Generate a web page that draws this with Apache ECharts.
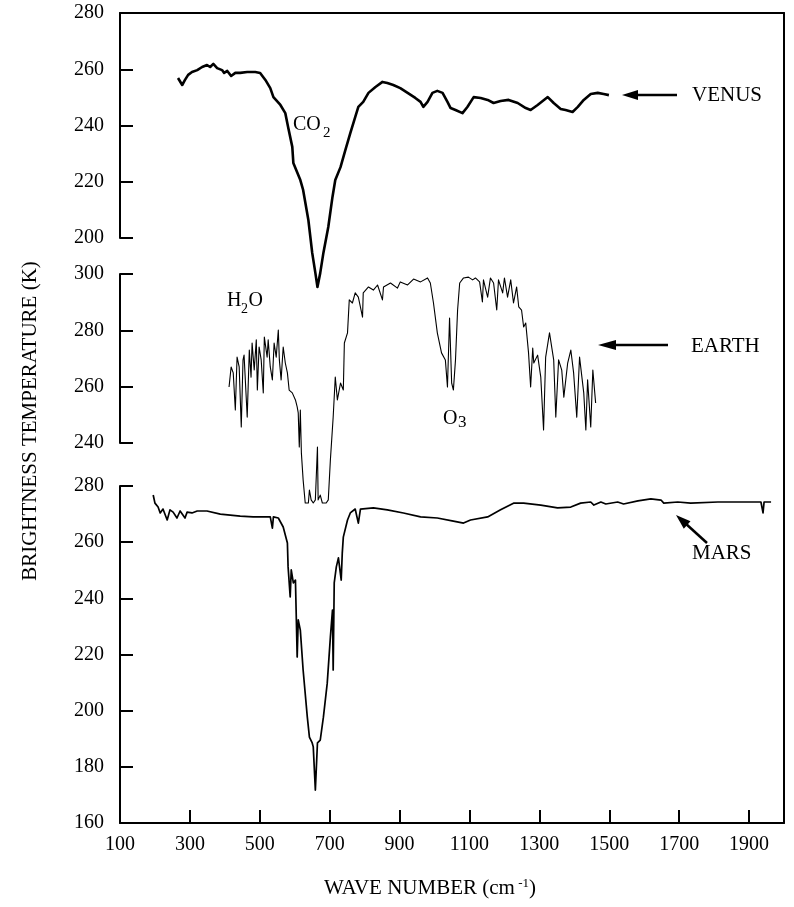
<!DOCTYPE html>
<html><head><meta charset="utf-8">
<script src="https://cdn.jsdelivr.net/npm/echarts/dist/echarts.min.js"></script>
<style>html,body{margin:0;padding:0;background:#fff}#c{width:794px;height:907px}</style>
</head><body><div id="c"></div>
<script>
// ---- data (wave number cm^-1, brightness temperature K) ----
const venusWN = [266,278,286,295,306,321,335,349,358,367,378,392,398,407,418,430,444,464,487,501,516,530,539,559,573,581,593,596,616,624,639,650,659,665,673,682,696,708,716,731,745,759,773,782,796,811,831,851,865,882,902,923,945,960,968,980,994,1008,1023,1037,1046,1060,1080,1094,1112,1132,1152,1169,1189,1212,1238,1261,1275,1295,1324,1341,1361,1375,1395,1410,1427,1447,1467,1484,1499];
const venusT = [256.9,254.4,256.2,258.0,259.0,259.7,260.8,261.5,260.8,261.9,260.4,259.7,258.7,259.4,257.6,258.7,258.7,259.0,259.0,258.7,256.2,253.3,250.1,247.3,244.4,239.5,232.4,226.7,220.6,217.1,206.4,194.7,187.6,182.6,187.6,194.7,203.9,214.6,220.6,225.2,231.3,237.3,243.0,246.6,248.4,251.6,253.7,255.5,255.1,254.4,253.3,251.6,249.8,248.4,246.6,248.4,251.6,252.3,251.6,248.4,246.2,245.5,244.4,246.6,250.1,249.8,249.1,248.0,248.7,249.1,248.0,246.2,245.5,247.3,250.1,248.0,245.9,245.5,244.8,246.6,249.1,251.2,251.6,251.2,250.8];

const earthWN = [412,418,424,430,435,441,447,452,455,464,470,475,478,484,490,493,498,504,510,513,521,524,530,536,541,547,553,556,561,567,573,579,584,593,602,607,610,613,616,619,624,630,639,642,647,653,659,665,667,673,679,690,696,702,710,716,722,731,739,742,751,756,765,773,782,794,796,811,825,837,851,854,874,894,902,923,940,960,980,988,997,1008,1020,1031,1037,1043,1049,1054,1060,1066,1072,1083,1097,1109,1117,1129,1137,1140,1152,1160,1169,1178,1183,1195,1200,1209,1218,1226,1235,1241,1249,1255,1261,1269,1275,1281,1284,1295,1304,1312,1318,1329,1341,1347,1355,1364,1370,1381,1390,1398,1407,1415,1427,1433,1438,1447,1453,1461];
const earthT = [259.9,267.0,264.9,251.7,270.5,267.0,245.7,269.5,271.2,249.2,273.0,263.4,275.5,265.9,276.6,258.8,274.1,269.5,257.8,277.6,270.5,276.6,267.0,262.4,275.5,270.5,280.1,269.5,262.4,274.1,268.4,264.9,258.8,257.8,255.3,252.8,250.7,238.6,251.7,236.5,226.9,218.7,218.7,223.3,219.8,218.7,219.8,238.6,219.8,221.5,218.7,218.7,219.8,234.0,249.2,263.4,255.3,261.3,258.8,275.5,279.1,290.8,289.7,293.3,291.8,284.7,293.3,295.4,294.3,296.1,290.8,295.4,296.8,295.0,297.2,296.1,298.2,297.2,298.6,296.8,289.7,279.1,272.0,269.5,259.9,284.4,261.3,258.8,269.5,287.2,296.8,298.6,298.9,297.9,298.6,297.2,290.1,297.9,291.8,298.6,296.8,287.2,297.9,293.3,298.6,291.8,297.9,289.7,295.4,288.3,287.2,281.2,282.6,272.0,259.9,273.7,268.4,271.2,263.4,244.6,270.5,279.1,269.5,249.2,269.5,265.9,256.3,268.4,273.0,264.9,249.2,270.5,257.8,244.6,262.4,245.7,265.9,254.2];

const marsWN = [195,200,209,215,223,235,243,252,263,272,286,292,306,321,349,387,444,481,530,536,539,553,567,579,581,587,590,596,602,607,610,616,624,636,642,650,653,659,665,673,682,693,702,708,710,713,719,725,733,736,739,751,759,773,782,788,825,865,911,960,1008,1054,1083,1103,1152,1189,1226,1255,1304,1352,1390,1418,1447,1456,1476,1490,1524,1541,1582,1619,1648,1656,1696,1733,1811,1885,1934,1940,1943,1963];
const marsT = [276.8,273.9,272.5,270.4,271.8,267.9,271.5,270.7,268.6,271.1,268.6,270.7,270.4,271.1,271.1,270.0,269.3,269.0,269.0,265.0,269.0,268.6,265.4,259.7,251.2,240.5,250.1,245.5,246.5,219.1,232.3,228.7,214.5,197.7,190.6,188.5,187.1,171.7,188.5,189.5,197.7,209.8,226.2,235.8,214.5,245.5,251.2,254.4,246.5,256.1,261.8,267.9,270.4,271.8,266.8,271.8,272.2,271.5,270.4,269.0,268.6,267.5,266.8,267.9,269.0,271.5,273.9,273.9,273.2,272.2,272.5,273.9,274.3,273.2,274.3,273.6,274.3,273.6,274.7,275.4,275.0,273.9,274.3,273.9,274.3,274.3,274.3,270.4,274.3,274.3];

const xMin = 100, xMax = 2000, xStep = 200;
const venusRange = [200, 280], earthRange = [240, 300], marsRange = [160, 280], yStep = 20;

// ---- chart ----
const FONT = '"Liberation Serif", "Times New Roman", serif';
const zip = (a, b) => a.map((v, i) => [v, b[i]]);
const L = 120, R = 10;
const axLine = {color: '#000', width: 2};

function yAx(gi, range) {
  return {gridIndex: gi, type: 'value', min: range[0], max: range[1], interval: yStep, position: 'left',
    axisLine: {show: true, onZero: false, lineStyle: axLine},
    axisTick: {show: true, inside: true, length: 13, lineStyle: {color: '#000', width: 2}},
    axisLabel: {color: '#000', fontSize: 20, fontFamily: FONT, margin: 16},
    splitLine: {show: false}};
}
function xHidden(gi) {
  return {gridIndex: gi, type: 'value', min: xMin, max: xMax, show: false};
}
function lineSeries(name, gi, wn, t, w) {
  return {name, type: 'line', xAxisIndex: gi, yAxisIndex: gi, data: zip(wn, t),
    symbol: 'none', clip: false, smooth: false, sampling: null, animation: false,
    lineStyle: {color: '#000', width: w, join: 'round'}};
}

const txt = (x, y, s, size, extra) => Object.assign({type: 'text', x, y, silent: true,
  style: {text: s, font: size + 'px ' + FONT, fill: '#000', align: 'left', verticalAlign: 'middle'}}, extra || {});

const chart = echarts.init(document.getElementById('c'), null, {renderer: 'canvas'});
chart.setOption({
  animation: false,
  backgroundColor: '#fff',
  grid: [
    {left: L, right: R, top: 13, height: 225},
    {left: L, right: R, top: 274, height: 169},
    {left: L, right: R, top: 486, height: 337},
    {left: L, right: R, top: 13, height: 810}
  ],
  xAxis: [
    xHidden(0), xHidden(1),
    {gridIndex: 2, type: 'value', min: xMin, max: xMax, interval: xStep, position: 'bottom',
      axisLine: {show: true, onZero: false, lineStyle: axLine},
      axisTick: {show: true, inside: true, length: 13, lineStyle: {color: '#000', width: 2}},
      axisLabel: {color: '#000', fontSize: 20, fontFamily: FONT, margin: 12, showMaxLabel: false,
        formatter: v => String(v)},
      splitLine: {show: false}},
    {gridIndex: 3, type: 'value', min: xMin, max: xMax, position: 'top',
      axisLine: {show: true, onZero: false, lineStyle: axLine},
      axisTick: {show: false}, axisLabel: {show: false}, splitLine: {show: false}}
  ],
  yAxis: [
    yAx(0, venusRange), yAx(1, earthRange), yAx(2, marsRange),
    {gridIndex: 3, type: 'value', min: 0, max: 1, position: 'right',
      axisLine: {show: true, onZero: false, lineStyle: axLine},
      axisTick: {show: false}, axisLabel: {show: false}, splitLine: {show: false}}
  ],
  series: [
    lineSeries('VENUS', 0, venusWN, venusT, 2.6),
    lineSeries('EARTH', 1, earthWN, earthT, 1.1),
    lineSeries('MARS', 2, marsWN, marsT, 1.7)
  ],
  graphic: [
    // axis titles
    {type: 'text', x: 30, y: 421, rotation: Math.PI / 2, silent: true,
      style: {text: 'BRIGHTNESS TEMPERATURE (K)', font: '21px ' + FONT, fill: '#000', align: 'center', verticalAlign: 'middle'}},
    {type: 'text', x: 430, y: 888, silent: true,
      style: {text: '{a|WAVE NUMBER (cm}{b| -1}{a|)}', fill: '#000', align: 'center', verticalAlign: 'middle',
        rich: {a: {fontSize: 21, fontFamily: FONT, fill: '#000', verticalAlign: 'bottom'},
               b: {fontSize: 13, fontFamily: FONT, fill: '#000', verticalAlign: 'top'}}}},
    // planet labels
    txt(692, 95, 'VENUS', 21), txt(691, 346, 'EARTH', 21), txt(692, 553, 'MARS', 21),
    // arrows
    {type: 'line', silent: true, shape: {x1: 634, y1: 95, x2: 677, y2: 95}, style: {stroke: '#000', lineWidth: 2.5}},
    {type: 'polygon', silent: true, shape: {points: [[622, 95], [638, 90], [638, 100]]}, style: {fill: '#000'}},
    {type: 'line', silent: true, shape: {x1: 612, y1: 345, x2: 668, y2: 345}, style: {stroke: '#000', lineWidth: 2.5}},
    {type: 'polygon', silent: true, shape: {points: [[598, 345], [616, 340], [616, 350]]}, style: {fill: '#000'}},
    {type: 'line', silent: true, shape: {x1: 707, y1: 543, x2: 685, y2: 523}, style: {stroke: '#000', lineWidth: 2.5}},
    {type: 'polygon', silent: true, shape: {points: [[676, 515], [690.5, 521.3], [683.8, 528.7]]}, style: {fill: '#000'}},
    // molecule labels
    txt(293, 125, 'CO', 20), txt(323, 133, '2', 15),
    txt(227, 301, 'H', 20), txt(241, 309, '2', 14), txt(248.5, 301, 'O', 20),
    txt(443, 419, 'O', 20), txt(458, 423, '3', 17)
  ]
});
</script>
</body></html>
